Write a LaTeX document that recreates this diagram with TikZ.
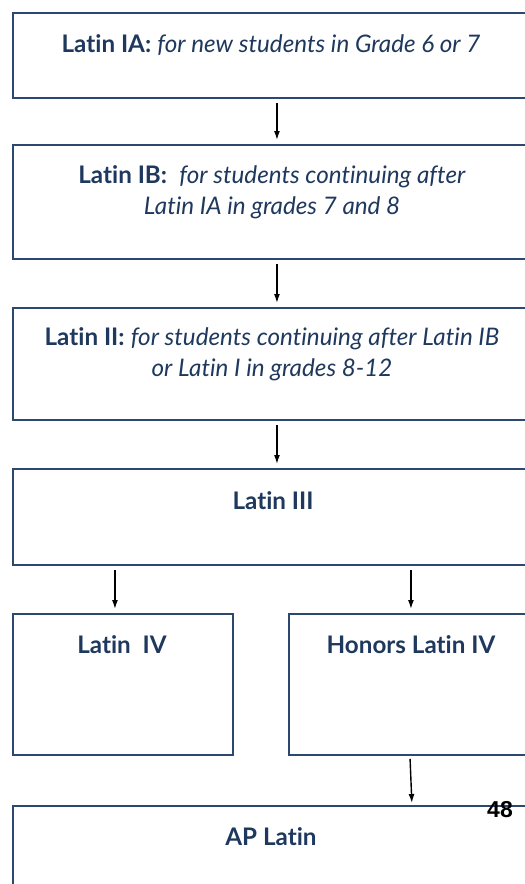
\documentclass[tikz,border=0pt]{standalone}
\usepackage{fontspec}
\setmainfont{Lato}[Ligatures=NoCommon]
\newfontfamily\numfont{Liberation Sans}
\usetikzlibrary{arrows.meta}
\definecolor{navy}{RGB}{30,56,94}
\definecolor{boxline}{RGB}{44,72,110}
\begin{document}
\begin{tikzpicture}[x=1pt,y=-1pt,
  box/.style={draw=boxline,line width=1.9pt,inner sep=0pt},
  lbl/.style={text=navy,font=\fontsize{24.2}{31}\selectfont,align=center,inner sep=0pt},
  arr/.style={-{Latex[length=9pt,width=6pt]},line width=1.4pt,black}]
\useasboundingbox (0,0) rectangle (525,884);
\clip (0,0) rectangle (525,884);
\fill[white] (0,0) rectangle (525,884);
\node[box,minimum width=528,minimum height=85,anchor=north west] (b1) at (12,12) {};
\node[box,minimum width=528,minimum height=114,anchor=north west] (b2) at (12,144) {};
\node[box,minimum width=528,minimum height=112,anchor=north west] (b3) at (12,307) {};
\node[box,minimum width=528,minimum height=96,anchor=north west] (b4) at (12,468) {};
\node[box,minimum width=220,minimum height=141,anchor=north west] (b5) at (12,613) {};
\node[box,minimum width=246,minimum height=141,anchor=north west] (b6) at (288,613) {};
\node[box,minimum width=528,minimum height=100,anchor=north west] (b7) at (12,805) {};
\node[lbl] (t1) at (271,45) {\textbf{Latin IA:} \textit{for new students in Grade 6 or 7}};
\node[lbl] (t2) at (272,192) {\textbf{Latin IB:}\ \ \textit{for students continuing after}\\\textit{Latin IA in grades 7 and 8}};
\node[lbl] (t3) at (272,354) {\textbf{Latin II:} \textit{for students continuing after Latin IB}\\\textit{or Latin I in grades 8-12}};
\node[lbl] (t4) at (273,501) {\textbf{Latin III}};
\node[lbl] (t5) at (122,645) {\textbf{Latin\ \ IV}};
\node[lbl] (t6) at (411,645) {\textbf{Honors Latin IV}};
\node[lbl] (t7) at (271,837) {\textbf{AP Latin}};
\node[font=\numfont\bfseries\fontsize{23}{25}\selectfont,inner sep=0pt] (pg) at (500,810) {48};
\draw[arr,shorten <=4pt,shorten >=4pt] (b1.south) -- (b2.north);
\draw[arr,shorten <=4pt,shorten >=4pt] (b2.south) -- (b3.north);
\draw[arr,shorten <=4pt,shorten >=4pt] (b3.south) -- (b4.north);
\draw[arr,shorten <=4pt,shorten >=4pt] ([xshift=-8pt]b5.north |- b4.south) -- ([xshift=-8pt]b5.north);
\draw[arr,shorten <=4pt,shorten >=4pt] ([xshift=-1pt]b6.north |- b4.south) -- ([xshift=-1pt]b6.north);
\draw[arr,shorten <=3pt,shorten >=2pt] ([xshift=-2pt]b6.south) -- ([xshift=0pt]b6.south |- b7.north);
\end{tikzpicture}
\end{document}
